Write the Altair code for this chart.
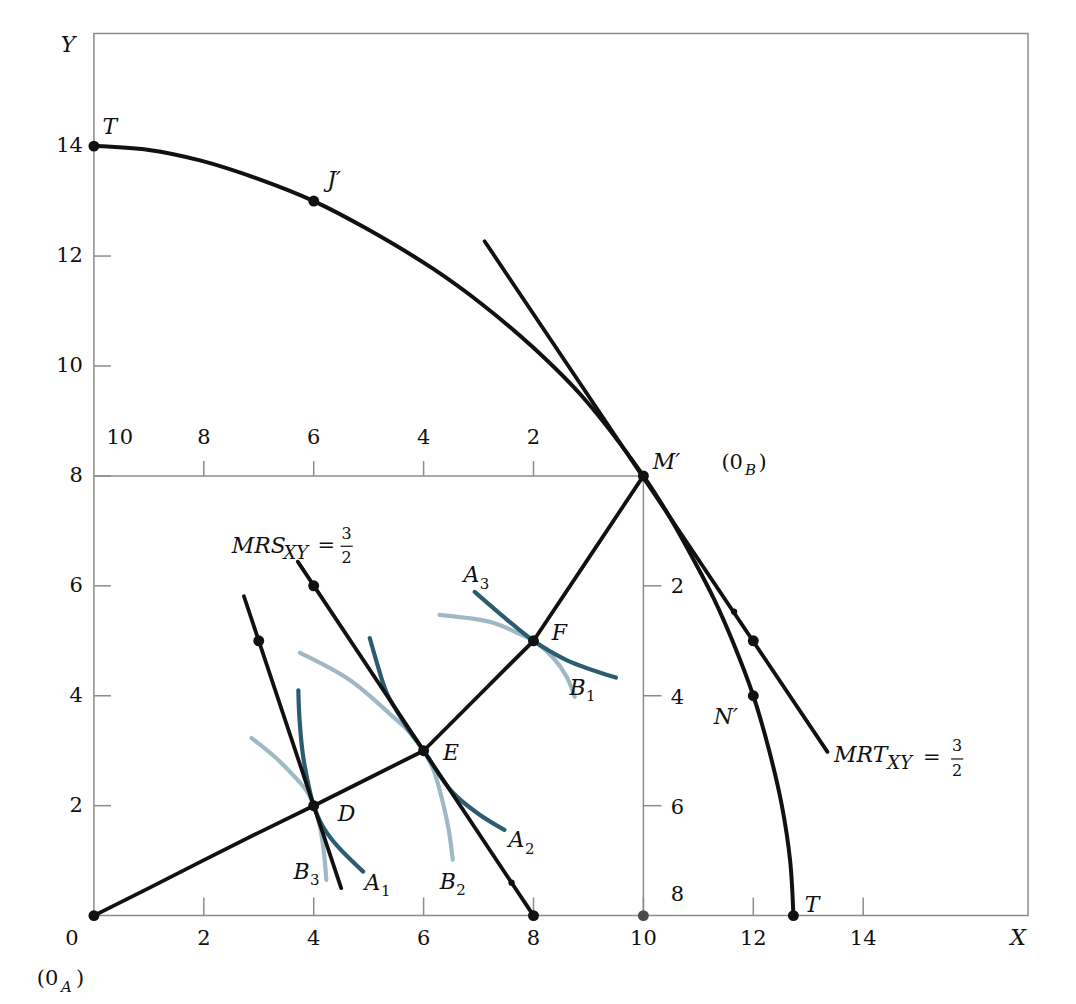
import altair as alt
import pandas as pd

FONT = "DejaVu Serif"
INK = "#111111"
FRAME = "#8c8c8c"
A_COL = "#2b5c6f"
B_COL = "#9fb9c4"

# ---------------- data ----------------
# transformation curve T - J' - M' - N' - T
ppf_x = [0.0, 1.0, 1.93, 3.0, 4.0, 4.96, 6.17, 7.08, 7.99, 8.9, 10.0,
         10.48, 10.9, 11.29, 11.62, 12.0, 12.29, 12.52, 12.67, 12.73]
ppf_y = [14.0, 13.93, 13.74, 13.4, 13.0, 12.5, 11.77, 11.11, 10.34, 9.43, 8.0,
         7.25, 6.5, 5.75, 5.0, 4.0, 3.0, 2.0, 1.0, 0.0]

# contract curve 0A - D - E - F - M'
cc_x = [0, 1, 2, 3, 4, 5, 6, 7, 8, 9, 10]
cc_y = [0, 0.5, 1.01, 1.51, 2, 2.5, 3, 4.0, 5, 6.5, 8]

# straight lines
mrt_x = [7.11, 13.35]
mrt_y = [12.27, 2.98]
mrs_e_x = [3.71, 8.0]
mrs_e_y = [6.44, 0.0]
mrs_d_x = [2.73, 4.5]
mrs_d_y = [5.81, 0.5]

# indifference curves of A (dark) and B (light)
A1_x = [3.72, 3.74, 3.8, 3.9, 4.0, 4.15, 4.4, 4.9]
A1_y = [4.1, 3.6, 2.95, 2.4, 2.0, 1.65, 1.3, 0.8]
A2_x = [5.02, 5.15, 5.33, 5.69, 6.0, 6.53, 7.0, 7.47]
A2_y = [5.05, 4.6, 4.05, 3.44, 3.0, 2.24, 1.85, 1.56]
A3_x = [6.93, 7.5, 8.0, 8.6, 9.5]
A3_y = [5.89, 5.4, 5.0, 4.65, 4.33]
B1_x = [6.29, 7.26, 7.69, 8.0, 8.35, 8.6, 8.75]
B1_y = [5.47, 5.33, 5.15, 5.0, 4.7, 4.35, 3.98]
B2_x = [3.75, 4.65, 5.44, 5.75, 6.0, 6.18, 6.29, 6.45, 6.53]
B2_y = [4.78, 4.29, 3.62, 3.33, 3.0, 2.65, 2.29, 1.6, 1.02]
B3_x = [2.87, 3.3, 3.65, 3.87, 4.0, 4.1, 4.18, 4.23]
B3_y = [3.23, 2.88, 2.53, 2.27, 2.0, 1.68, 1.2, 0.65]

# marked points
dot_x = [0, 4, 10, 12, 12.73, 12, 4, 3, 8, 6, 4, 8, 0]
dot_y = [14, 13, 8, 4, 0, 5, 6, 5, 0, 3, 2, 5, 0]
small_dot_x = [11.65, 7.6]
small_dot_y = [5.53, 0.6]
grey_dot_x = [10]
grey_dot_y = [0]

# axis tick values
main_ticks = [2, 4, 6, 8, 10, 12, 14]
box_top_ticks = [2, 4, 6, 8]          # B's X = 8, 6, 4, 2
box_top_labels = ["10", "8", "6", "4", "2"]
box_top_label_x = [0.47, 2, 4, 6, 8]
box_right_ticks = [6, 4, 2]           # B's Y = 2, 4, 6
box_right_labels = ["2", "4", "6", "8"]
box_right_label_y = [5.98, 3.96, 1.96, 0.38]

# text labels (italic capitals)
letter_t = ["T", "J′", "M′", "F", "E", "D", "N′", "T", "A", "B", "A", "B", "A", "B", "Y", "X"]
letter_x = [0.29, 4.37, 10.42, 8.47, 6.5, 4.6, 11.5, 13.07, 6.87, 8.8, 7.69, 3.78, 5.07, 6.44, -0.47, 16.82]
letter_y = [14.35, 13.38, 8.25, 5.15, 2.96, 1.84, 3.62, 0.2, 6.2, 4.15, 1.38, 0.8, 0.6, 0.62, 15.84, -0.4]
sub_t = ["3", "1", "2", "3", "1", "2"]
sub_x = [7.11, 9.04, 7.93, 4.02, 5.31, 6.68]
sub_y = [6.04, 3.99, 1.22, 0.64, 0.44, 0.46]

# ---------------- scales and helpers ----------------
xs = alt.Scale(domain=[0, 17], nice=False, zero=False)
ys = alt.Scale(domain=[0, 16.05], nice=False, zero=False)


def X(f):
    return alt.X(f, type="quantitative", scale=xs, axis=None)


def Y(f):
    return alt.Y(f, type="quantitative", scale=ys, axis=None)


def line_df(xv, yv, name="s"):
    return pd.DataFrame({"x": xv, "y": yv, "i": range(len(xv)), "s": name})


def curve(df, color, width, interp="catmull-rom"):
    return alt.Chart(df).mark_line(
        color=color, strokeWidth=width, interpolate=interp, strokeCap="round",
        strokeJoin="round"
    ).encode(x=X("x"), y=Y("y"), detail="s:N", order="i:Q")


def text_layer(df, size, italic=False, align="center", baseline="middle"):
    return alt.Chart(df).mark_text(
        font=FONT, fontSize=size, fontStyle="italic" if italic else "normal",
        align=align, baseline=baseline, color=INK
    ).encode(x=X("x"), y=Y("y"), text="t:N")


# ---------------- frame pieces: box, ticks ----------------
box = pd.DataFrame({"x": [0, 10], "x2": [10, 10], "y": [8, 0], "y2": [8, 8]})
tick_rows = []
for v in main_ticks:
    tick_rows.append({"x": v, "x2": v, "y": 0, "y2": 0.33})
    tick_rows.append({"x": 0, "x2": 0.31, "y": v, "y2": v})
for v in box_top_ticks:
    tick_rows.append({"x": v, "x2": v, "y": 8, "y2": 8.27})
for v in box_right_ticks:
    tick_rows.append({"x": 10, "x2": 10.33, "y": v, "y2": v})
ticks = pd.DataFrame(tick_rows)

rules = alt.Chart(pd.concat([box, ticks])).mark_rule(color=FRAME, strokeWidth=1.5).encode(
    x=X("x"), x2=alt.X2("x2"), y=Y("y"), y2=alt.Y2("y2")
)

# ---------------- curves ----------------
ppf = curve(line_df(ppf_x, ppf_y, "ppf"), INK, 4)
cc = curve(line_df(cc_x, cc_y, "cc"), INK, 3.8, "linear")
straight = curve(
    pd.concat([line_df(mrt_x, mrt_y, "mrt"), line_df(mrs_e_x, mrs_e_y, "mrse"),
               line_df(mrs_d_x, mrs_d_y, "mrsd")]),
    INK, 3.8, "linear")
b_curves = curve(
    pd.concat([line_df(B1_x, B1_y, "B1"), line_df(B2_x, B2_y, "B2"), line_df(B3_x, B3_y, "B3")]),
    B_COL, 4.2)
a_curves = curve(
    pd.concat([line_df(A1_x, A1_y, "A1"), line_df(A2_x, A2_y, "A2"), line_df(A3_x, A3_y, "A3")]),
    A_COL, 4.2)

dots = alt.Chart(pd.DataFrame({"x": dot_x, "y": dot_y})).mark_circle(
    size=120, color=INK, opacity=1).encode(x=X("x"), y=Y("y"))
small_dots = alt.Chart(pd.DataFrame({"x": small_dot_x, "y": small_dot_y})).mark_circle(
    size=40, color=INK, opacity=1).encode(x=X("x"), y=Y("y"))
grey_dots = alt.Chart(pd.DataFrame({"x": grey_dot_x, "y": grey_dot_y})).mark_circle(
    size=120, color="#4a4a4a", opacity=1).encode(x=X("x"), y=Y("y"))

# ---------------- text ----------------
NUM = 21
bottom_nums = pd.DataFrame({"t": ["0"] + [str(v) for v in main_ticks],
                            "x": [-0.4] + main_ticks, "y": [-0.42] * (1 + len(main_ticks))})
left_nums = pd.DataFrame({"t": [str(v) for v in main_ticks], "x": [-0.2] * len(main_ticks),
                          "y": main_ticks})
top_nums = pd.DataFrame({"t": box_top_labels, "x": box_top_label_x, "y": [8.69] * 5})
right_nums = pd.DataFrame({"t": box_right_labels, "x": [10.62] * 4, "y": box_right_label_y})

letters = pd.DataFrame({"t": letter_t, "x": letter_x, "y": letter_y})
subs = pd.DataFrame({"t": sub_t, "x": sub_x, "y": sub_y})

# origin labels (0_A) and (0_B)
origin_main = pd.DataFrame({"t": ["(0", "(0"], "x": [-1.04, 11.42], "y": [-1.16, 8.24]})
origin_sub = pd.DataFrame({"t": ["A", "B"], "x": [-0.5, 11.95], "y": [-1.3, 8.1]})
origin_close = pd.DataFrame({"t": [")", ")"], "x": [-0.25, 12.17], "y": [-1.16, 8.24]})

# MRS / MRT formulas
formula_main = pd.DataFrame({"t": ["MRS", "MRT"], "x": [2.51, 13.47], "y": [6.73, 2.93]})
formula_sub = pd.DataFrame({"t": ["XY", "XY"], "x": [3.45, 14.44], "y": [6.58, 2.75]})
formula_eq = pd.DataFrame({"t": ["=", "="], "x": [4.07, 15.09], "y": [6.73, 2.87]})
frac_num = pd.DataFrame({"t": ["3", "3", "2", "2"], "x": [4.6, 15.71, 4.6, 15.71],
                         "y": [6.95, 3.08, 6.5, 2.63]})
frac_bar = pd.DataFrame({"x": [4.49, 15.6], "x2": [4.71, 15.82], "y": [6.72, 2.85],
                         "y2": [6.72, 2.85]})
bars = alt.Chart(frac_bar).mark_rule(color=INK, strokeWidth=1.2).encode(
    x=X("x"), x2=alt.X2("x2"), y=Y("y"), y2=alt.Y2("y2"))

chart = alt.layer(
    rules,
    b_curves,
    a_curves,
    ppf,
    cc,
    straight,
    grey_dots,
    dots,
    small_dots,
    text_layer(bottom_nums, NUM),
    text_layer(left_nums, NUM, align="right"),
    text_layer(top_nums, NUM),
    text_layer(right_nums, NUM),
    text_layer(letters, 22, italic=True),
    text_layer(subs, 15),
    text_layer(origin_main, 21, align="left"),
    text_layer(origin_sub, 15, italic=True),
    text_layer(origin_close, 21),
    text_layer(formula_main, 22, italic=True, align="left"),
    text_layer(formula_sub, 18, italic=True, align="left"),
    text_layer(formula_eq, 21, align="left"),
    text_layer(frac_num, 16),
    bars,
).properties(
    width=935,
    height=883,
    padding={"left": 86, "top": 25, "right": 40, "bottom": 80},
    autosize=alt.AutoSizeParams(type="none"),
    background="white",
).configure_view(stroke=FRAME, strokeWidth=1.5)

chart.save("out.html", embed_options={"renderer": "svg", "actions": False})
